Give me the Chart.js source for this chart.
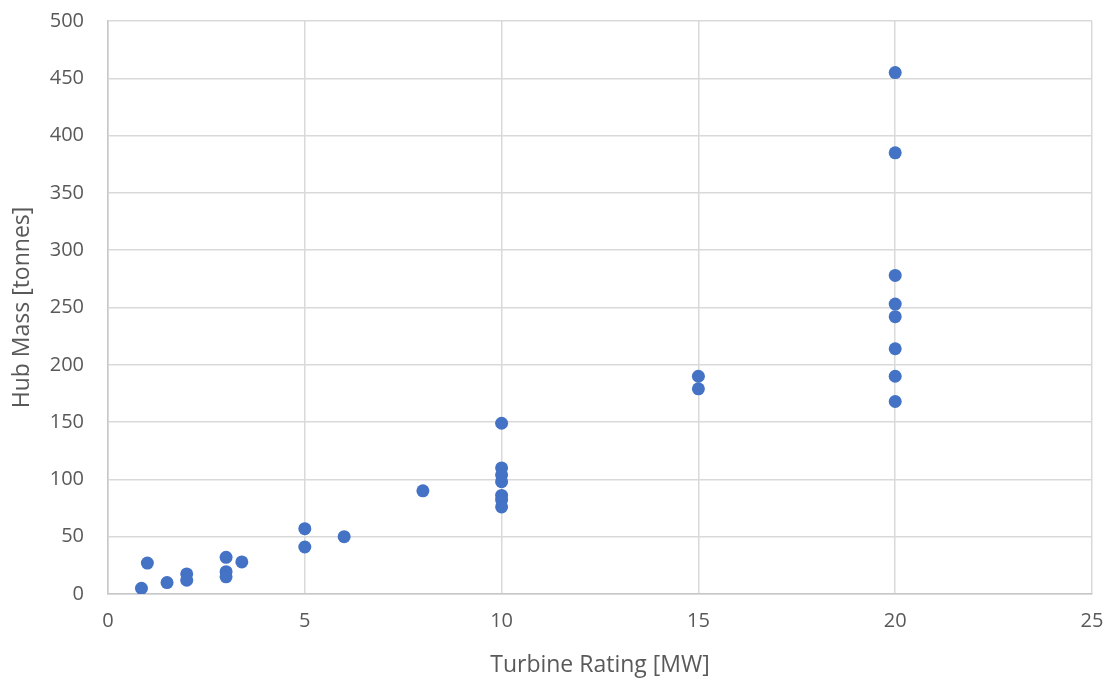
<!DOCTYPE html>
<html>
<head>
<meta charset="utf-8">
<script src="https://cdn.jsdelivr.net/npm/chart.js@4/dist/chart.umd.min.js"></script>
<style>
  html, body { margin: 0; padding: 0; background: #fff; }
  #wrap { width: 1109px; height: 682px; }
</style>
</head>
<body>
<div id="wrap"><canvas id="hubChart"></canvas></div>
<script>
// turbine rating [MW] and hub mass [tonnes], one entry per point
const ratings = [
  0.85, 1, 1.5, 2, 2, 3, 3, 3, 3.4,
  5, 5, 6, 8,
  10, 10, 10, 10, 10, 10, 10,
  15, 15,
  20, 20, 20, 20, 20, 20, 20, 20
];
const hubMass = [
  5, 27, 10, 17.5, 12, 32, 19.5, 15, 28,
  57, 41, 50, 90,
  149, 110, 104, 98, 86, 82, 76,
  190, 179,
  455, 385, 278, 253, 242, 214, 190, 168
];
const xTicks = [0, 5, 10, 15, 20, 25];
const yTicks = [0, 50, 100, 150, 200, 250, 300, 350, 400, 450, 500];

const points = ratings.map((r, i) => ({x: r, y: hubMass[i]}));

const fontFamily = "'Open Sans', sans-serif";
const textColor = '#595959';
const gridColor = '#d9d9d9';

// fixed axis box sizes, no extra room for overhanging end labels
function fixBox(size) {
  return (scale) => {
    if (scale.isHorizontal()) scale.height = size; else scale.width = size;
    scale.paddingTop = scale.paddingBottom = 0;
    scale.paddingLeft = scale.paddingRight = 0;
  };
}

new Chart(document.getElementById('hubChart'), {
  type: 'scatter',
  data: {
    datasets: [{
      data: points,
      backgroundColor: '#4472c4',
      borderColor: '#4472c4',
      pointRadius: 6.5,
      pointHoverRadius: 6.5,
      borderWidth: 0
    }]
  },
  options: {
    responsive: true,
    maintainAspectRatio: false,
    animation: false,
    layout: { padding: { top: 21, right: 17, left: 0, bottom: 0 } },
    plugins: {
      legend: { display: false },
      tooltip: { enabled: false }
    },
    scales: {
      x: {
        type: 'linear',
        min: xTicks[0],
        max: xTicks[xTicks.length - 1],
        afterBuildTicks: (scale) => { scale.ticks = xTicks.map(v => ({value: v})); },
        afterFit: fixBox(88),
        grid: { color: gridColor, lineWidth: 1.5, drawTicks: false },
        border: { color: '#c8c8c8', width: 1.5 },
        ticks: {
          padding: 15,
          color: textColor,
          font: { family: fontFamily, size: 20 }
        },
        title: {
          display: true,
          text: 'Turbine Rating [MW]',
          color: textColor,
          font: { family: fontFamily, size: 23 },
          padding: { bottom: 3 }
        }
      },
      y: {
        type: 'linear',
        min: yTicks[0],
        max: yTicks[yTicks.length - 1],
        afterBuildTicks: (scale) => { scale.ticks = yTicks.map(v => ({value: v})); },
        afterFit: fixBox(108),
        grid: { color: gridColor, lineWidth: 1.5, drawTicks: false },
        border: { color: '#c8c8c8', width: 1.5 },
        ticks: {
          padding: 24,
          color: textColor,
          font: { family: fontFamily, size: 20 }
        },
        title: {
          display: true,
          text: 'Hub Mass [tonnes]',
          color: textColor,
          font: { family: fontFamily, size: 23 },
          padding: { top: 9 }
        }
      }
    }
  }
});
</script>
</body>
</html>
